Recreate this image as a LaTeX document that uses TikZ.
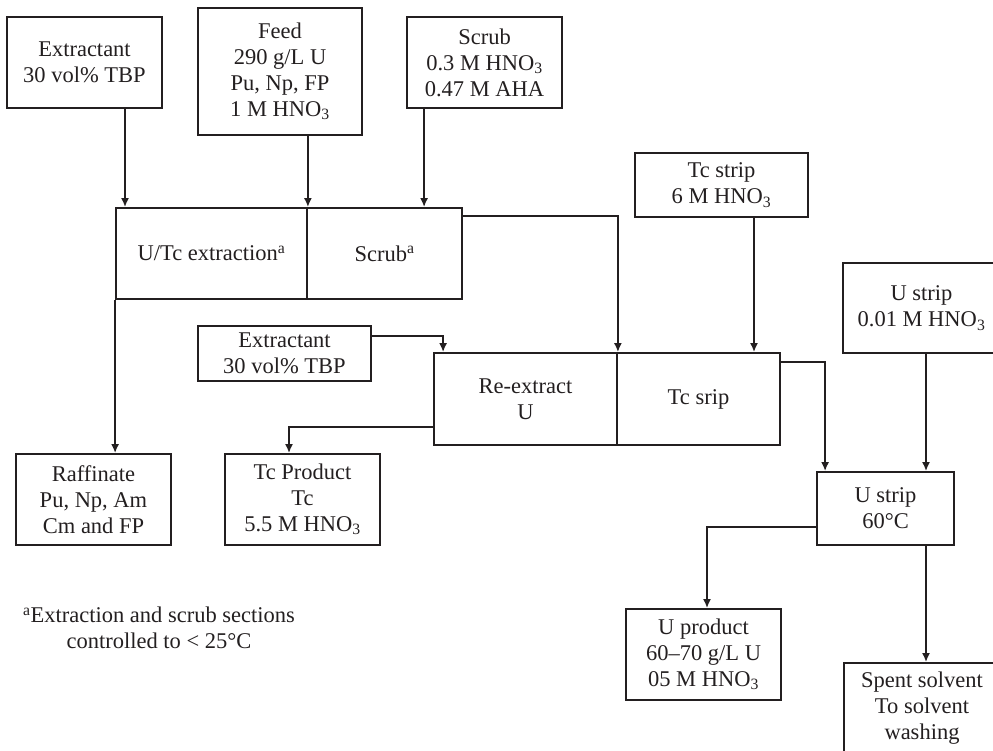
\documentclass[tikz,border=0pt]{standalone}
\usepackage{fontspec}
\setmainfont{Liberation Serif}
\usetikzlibrary{arrows.meta}
\definecolor{ink}{HTML}{231F20}

\begin{document}
\begin{tikzpicture}[
    x=1pt, y=-1pt,
    stream/.style = {
      draw=ink,
      text=ink,
      line width=1.8pt,
      inner sep=0pt,
      align=center,
      font=\fontsize{22.5}{26}\selectfont
    },
    note/.style = {
      text=ink,
      inner sep=0pt,
      align=center,
      font=\fontsize{22.5}{26}\selectfont
    },
    arrow/.style = {-{Latex[length=9pt,width=8pt]}, line width=1.8pt, draw=ink}
  ]
\useasboundingbox (0,0) rectangle (993,751);
\clip (0,0) rectangle (993,751);

% feeds into the first contactor
\node[stream, minimum width=155pt, minimum height=91pt] (ext1) at (84.5, 62.5) {Extractant\\30 vol\% TBP};
\node[stream, minimum width=164pt, minimum height=127pt] (feed) at (280, 71.5) {Feed\\290 g/L U\\Pu, Np, FP\\1 M HNO\textsubscript{3}};
\node[stream, minimum width=155pt, minimum height=91pt] (scrubin) at (484.5, 62.5) {Scrub\\0.3 M HNO\textsubscript{3}\\0.47 M AHA};

\node[stream, minimum width=191pt, minimum height=91pt] (extr) at (211.5, 253.5) {U/Tc extraction\textsuperscript{a}};
\node[stream, minimum width=155pt, minimum height=91pt] (scb) at (384.5, 253.5) {Scrub\textsuperscript{a}};

% second contactor
\node[stream, minimum width=173pt, minimum height=64pt] (tcin) at (721.5, 185) {Tc strip\\6 M HNO\textsubscript{3}};
\node[stream, minimum width=173pt, minimum height=55pt] (ext2) at (284.5, 353.5) {Extractant\\30 vol\% TBP};
\node[stream, minimum width=183pt, minimum height=92pt] (rex) at (525.5, 399) {Re-extract\\U};
\node[stream, minimum width=163pt, minimum height=92pt] (tcs) at (698.5, 399) {Tc srip};

% products
\node[stream, minimum width=155pt, minimum height=91pt] (raff) at (93.5, 499.5) {Raffinate\\Pu, Np, Am\\Cm and FP};
\node[stream, minimum width=155pt, minimum height=91pt] (tcprod) at (302.5, 499.5) {Tc Product\\Tc\\5.5 M HNO\textsubscript{3}};

% uranium strip
\node[stream, minimum width=157pt, minimum height=90pt] (usin) at (921.5, 308) {U strip\\0.01 M HNO\textsubscript{3}};
\node[stream, minimum width=137pt, minimum height=73pt] (us60) at (885.5, 508.5) {U strip\\60°C};
\node[stream, minimum width=155pt, minimum height=91pt] (uprod) at (703.5, 654.5) {U product\\60–70 g/L U\\05 M HNO\textsubscript{3}};
\node[stream, minimum width=156pt, minimum height=91pt] (spent) at (922, 708.5) {Spent solvent\\To solvent\\washing};

\node[note] (foot) at (159, 628) {\textsuperscript{a}Extraction and scrub sections\\controlled to < 25°C};

\draw[arrow] ([xshift=40.5pt]ext1.south) -- ([xshift=40.5pt]ext1.south |- extr.north);
\draw[arrow] (feed.south -| extr.north east) -- (extr.north east);
\draw[arrow] ([xshift=18pt]scrubin.south west) -- ([xshift=18pt]scrubin.south west |- scb.north);
\draw[arrow] ([yshift=-9pt]scb.north east) -| (rex.north east);
\draw[arrow] ([xshift=32.5pt]tcin.south) -- ([xshift=32.5pt]tcin.south |- tcs.north);
\draw[arrow] ([yshift=-10pt]tcs.north east) -| ([xshift=9pt]us60.north west);
\draw[arrow] ([xshift=40.5pt]us60.north |- usin.south) -- ([xshift=40.5pt]us60.north);
\draw[arrow] ([yshift=-18.5pt]us60.west) -| ([xshift=3.5pt]uprod.north);
\draw[arrow] ([xshift=40.5pt]us60.south) -- ([xshift=40.5pt]us60.south |- spent.north);
\draw[arrow] (extr.south west) -- (extr.south west |- raff.north);
\draw[arrow] ([yshift=17.5pt]ext2.east) -| ([xshift=10pt]rex.north west);
\draw[arrow] ([yshift=-28pt]rex.west) -| ([xshift=-13.5pt]tcprod.north);
\end{tikzpicture}
\end{document}
